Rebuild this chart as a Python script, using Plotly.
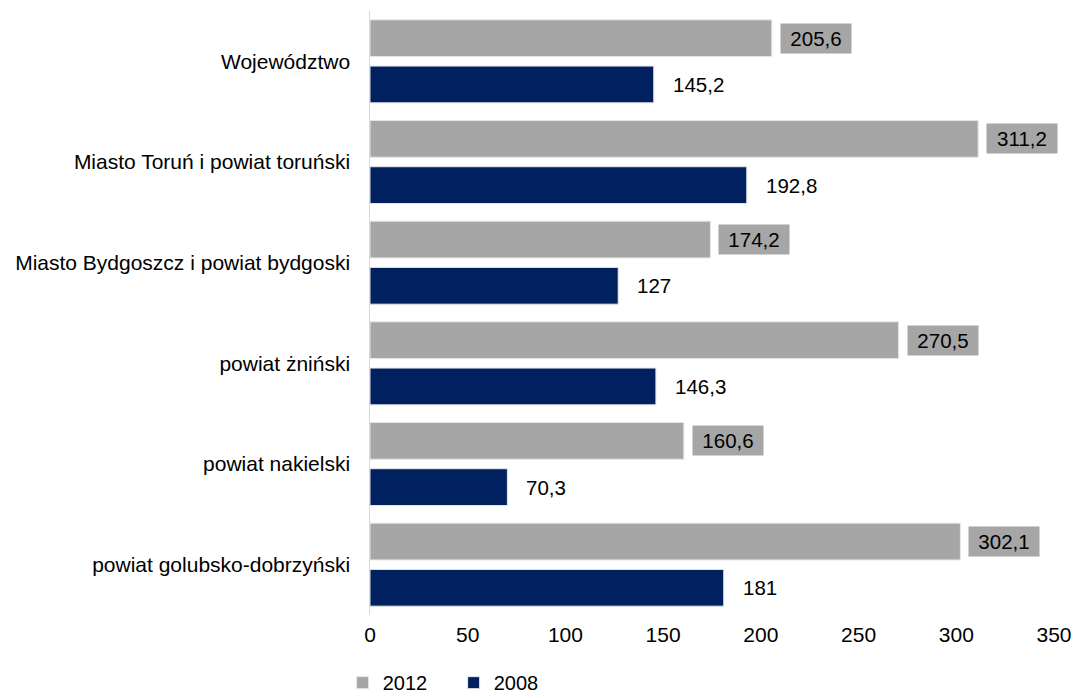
import plotly.graph_objects as go

categories = [
    "Województwo",
    "Miasto Toruń i powiat toruński",
    "Miasto Bydgoszcz i powiat bydgoski",
    "powiat żniński",
    "powiat nakielski",
    "powiat golubsko-dobrzyński",
]
values_2012 = [205.6, 311.2, 174.2, 270.5, 160.6, 302.1]
values_2008 = [145.2, 192.8, 127, 146.3, 70.3, 181]
x_ticks = [0, 50, 100, 150, 200, 250, 300, 350]

GRAY = "#A6A6A6"
NAVY = "#002060"
FONT = "Liberation Sans, Arial, sans-serif"


def fmt(v):
    return ("%g" % v).replace(".", ",")


fig = go.Figure()
fig.add_trace(go.Bar(
    y=categories, x=values_2012, orientation="h", name="2012",
    marker=dict(color=GRAY, line=dict(color="#E6E6E6", width=1)),
))
fig.add_trace(go.Bar(
    y=categories, x=values_2008, orientation="h", name="2008",
    marker=dict(color=NAVY, line=dict(color="#E6E6E6", width=1)),
))

annotations = []
for c, v in zip(categories, values_2012):
    annotations.append(dict(
        x=v, y=c, xref="x", yref="y", text=fmt(v), showarrow=False,
        xanchor="left", yanchor="middle", xshift=8, yshift=23.1,
        bgcolor=GRAY, borderpad=3, width=64, align="center",
        font=dict(family=FONT, size=20.5, color="#000000"),
    ))
for c, v in zip(categories, values_2008):
    annotations.append(dict(
        x=v, y=c, xref="x", yref="y", text=fmt(v), showarrow=False,
        xanchor="left", yanchor="middle", xshift=15, yshift=-23.1,
        borderpad=3,
        font=dict(family=FONT, size=20.5, color="#000000"),
    ))

fig.update_layout(
    width=1075, height=698,
    margin=dict(l=370, r=21, t=11, b=83, autoexpand=False),
    paper_bgcolor="white", plot_bgcolor="white",
    barmode="group", bargap=0.081, bargroupgap=0.205,
    font=dict(family=FONT, size=21, color="#000000"),
    showlegend=True,
    legend=dict(
        orientation="h", x=-0.04, y=-0.112, xanchor="left", yanchor="middle",
        font=dict(family=FONT, size=20, color="#000000"),
        traceorder="normal", itemwidth=30, entrywidth=66,
    ),
    annotations=annotations,
)
fig.update_xaxes(
    range=[0, 350], tickvals=x_ticks, ticktext=[str(t) for t in x_ticks],
    showgrid=False, zeroline=False, showline=False, ticks="",
    automargin=False, ticklabelstandoff=5,
    tickfont=dict(family=FONT, size=21, color="#000000"),
)
fig.update_yaxes(
    autorange="reversed", showgrid=False, zeroline=False,
    showline=True, linecolor="#D9D9D9", linewidth=1, ticks="",
    ticksuffix="  ", automargin=False, ticklabelstandoff=3,
    tickfont=dict(family=FONT, size=21, color="#000000"),
)

fig.write_html(
    "out.html",
    config={"displayModeBar": False},
    post_script="document.body.style.margin='0';document.body.style.overflow='hidden';",
)
